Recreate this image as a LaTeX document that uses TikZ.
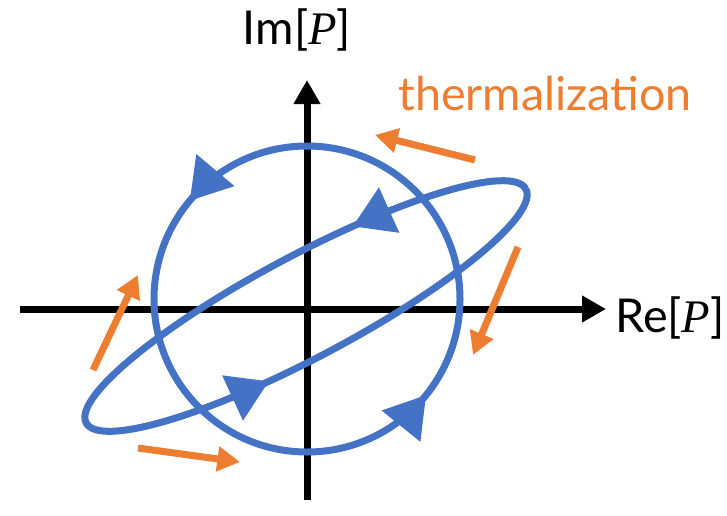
\documentclass[tikz,border=0pt]{standalone}
\usepackage{fontspec}
\setmainfont{Lato}
\newfontfamily\varfont{Liberation Serif}
\usetikzlibrary{arrows.meta,decorations.markings}
\definecolor{loopblue}{RGB}{68,114,196}
\definecolor{thermorange}{RGB}{237,125,49}
\newcommand{\varP}{{\varfont\itshape P}}
\tikzset{
axis line/.style={line width=5.25pt,-{Triangle[length=18pt,width=19pt]}},
loop line/.style={color=loopblue,line width=5.25pt},
loop arrows/.style 2 args={postaction={decorate},decoration={markings,
  mark=at position #1 with {\arrow{Triangle[length=30pt,width=36pt]}},
  mark=at position #2 with {\arrow{Triangle[length=30pt,width=36pt]}}}},
relax arrow/.style={color=thermorange,line width=5.25pt,-{Triangle[length=17pt,width=18pt]}},
big label/.style={inner sep=0pt,font=\fontsize{35}{40}\selectfont}
}

\begin{document}
\begin{tikzpicture}[x=0.75pt,y=0.75pt,yscale=-1,xscale=1]
\useasboundingbox (0,0) rectangle (727,515);

%Axes
\coordinate (xstart) at (20,309);
\coordinate (xend) at (606,309);
\coordinate (ystart) at (307,500);
\coordinate (yend) at (307,80);
\draw [axis line] (xstart) -- (xend);
\draw [axis line] (ystart) -- (yend);

%Circle loop
\coordinate (circ) at (307,299);
\draw [loop line, loop arrows={0.389}{0.892}] (circ) ++(153,0) arc [start angle=0, end angle=-360, radius=153];

%Ellipse loop
\begin{scope}[shift={(306,306)}, rotate=-28]
\draw [loop line, loop arrows={0.175}{0.685}] (249,0) arc [start angle=0, end angle=-360, x radius=249, y radius=51];
\end{scope}

%Thermalization arrows
\coordinate (topfrom) at (475,160);
\coordinate (topto) at (375,135);
\coordinate (rightfrom) at (518,247);
\coordinate (rightto) at (473,355);
\coordinate (bottomfrom) at (138,448);
\coordinate (bottomto) at (240,462);
\coordinate (leftfrom) at (93,370);
\coordinate (leftto) at (138,275);
\draw [relax arrow] (topfrom) -- (topto);
\draw [relax arrow] (rightfrom) -- (rightto);
\draw [relax arrow] (bottomfrom) -- (bottomto);
\draw [relax arrow] (leftfrom) -- (leftto);

% Text Node
\node [big label, anchor=base] (imlabel) at (297,44) {Im[\varP]};
% Text Node
\node [big label, anchor=base west] (relabel) at (615,332) {Re[\varP]};
% Text Node
\node [big label, anchor=base, color=thermorange] (thermlabel) at (545,110) {thermalization};

\end{tikzpicture}
\end{document}
